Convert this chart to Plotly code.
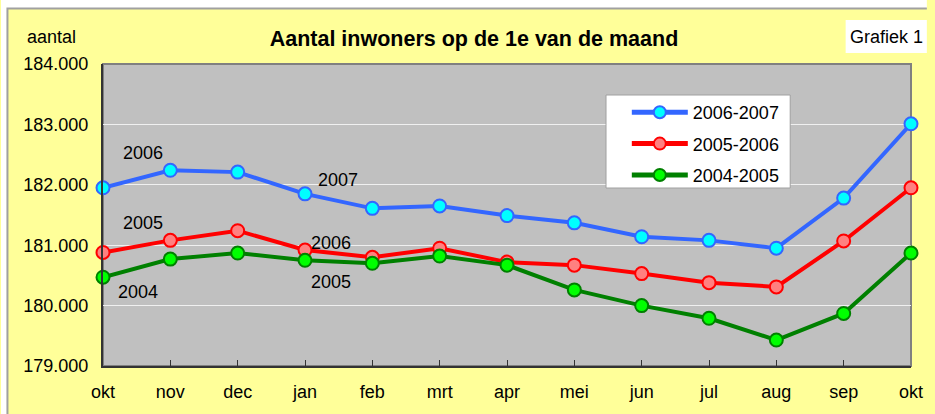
import plotly.graph_objects as go

months = ["okt", "nov", "dec", "jan", "feb", "mrt", "apr", "mei", "jun", "jul", "aug", "sep", "okt"]
s_2006_2007 = [181950, 182240, 182210, 181850, 181610, 181650, 181490, 181370, 181140, 181080, 180950, 181780, 183010]
s_2005_2006 = [180880, 181080, 181240, 180920, 180800, 180950, 180720, 180670, 180530, 180380, 180310, 181070, 181950]
s_2004_2005 = [180470, 180770, 180870, 180750, 180700, 180820, 180670, 180260, 180000, 179790, 179430, 179870, 180870]
series_names = ["2006-2007", "2005-2006", "2004-2005"]
y_ticks = [179000, 180000, 181000, 182000, 183000, 184000]

# year labels: (text, x index, y value)
year_labels = [("2006", 0.59, 182530), ("2005", 0.59, 181370), ("2004", 0.52, 180230),
               ("2007", 3.49, 182080), ("2006", 3.38, 181040), ("2005", 3.38, 180390)]

FONT = "Liberation Sans, Arial"
xs = list(range(len(months)))
styles = [
    dict(line="#3366FF", fill="#00FFFF"),
    dict(line="#FF0000", fill="#FF8080"),
    dict(line="#008000", fill="#00FF00"),
]

fig = go.Figure()
for name, vals, st in zip(series_names, [s_2006_2007, s_2005_2006, s_2004_2005], styles):
    fig.add_trace(go.Scatter(
        x=xs, y=vals, name=name, mode="lines+markers", legendgroup=name,
        line=dict(color=st["line"], width=4),
        marker=dict(size=13, color=st["fill"], line=dict(color=st["line"], width=2)),
        cliponaxis=False,
    ))

for txt, xi, yv in year_labels:
    fig.add_annotation(x=xi, y=yv, xref="x", yref="y", text=txt, showarrow=False,
                       font=dict(size=18, color="black", family=FONT))

L, R, T, B = 103, 16, 64, 48
W, H = 935, 414
pw, ph = W - L - R, H - T - B

def px(x):
    return (x - L) / pw

def py(y):
    return (H - B - y) / ph

shapes = [
    dict(type="rect", xref="paper", yref="paper", x0=px(0), x1=px(W), y0=py(8), y1=py(0),
         fillcolor="white", line=dict(width=0), layer="below"),
    dict(type="rect", xref="paper", yref="paper", x0=px(0), x1=px(6), y0=py(H), y1=py(0),
         fillcolor="white", line=dict(width=0), layer="below"),
    dict(type="path", xref="paper", yref="paper",
         path=f"M {px(6.5)} {py(H)} L {px(6.5)} {py(8.5)} L {px(W)} {py(8.5)}",
         line=dict(color="#A0A0A0", width=2), layer="below"),
    dict(type="rect", xref="paper", yref="paper", x0=px(853), x1=px(W), y0=py(53), y1=py(20),
         fillcolor="white", line=dict(width=0), layer="below"),
    dict(type="rect", xref="paper", yref="paper", x0=0, x1=1, y0=0, y1=1,
         fillcolor="rgba(0,0,0,0)", line=dict(color="#808080", width=2), layer="below"),
    # legend box
    dict(type="rect", xref="paper", yref="paper", x0=px(611), x1=px(797), y0=py(188), y1=py(95),
         fillcolor="white", line=dict(color="#A0A0A0", width=1), layer="above"),
]

fig.add_annotation(xref="paper", yref="paper", x=px(51), y=py(37), text="aantal", showarrow=False,
                   xanchor="center", yanchor="middle", font=dict(size=18, color="black", family=FONT))
fig.add_annotation(xref="paper", yref="paper", x=px(894), y=py(37), text="Grafiek 1", showarrow=False,
                   xanchor="center", yanchor="middle", font=dict(size=18, color="black", family=FONT))

fig.update_layout(
    width=W, height=H,
    margin=dict(l=L, r=R, t=T, b=B),
    paper_bgcolor="#FFFF99",
    plot_bgcolor="#C0C0C0",
    separators=",.",
    shapes=shapes,
    title=dict(text="<b>Aantal inwoners op de 1e van de maand</b>", x=474 / W, xanchor="center",
               y=1 - 38 / H, yanchor="middle", font=dict(size=21.5, color="black", family=FONT)),
    font=dict(family=FONT, color="black", size=18),
    showlegend=True,
    legend=dict(x=px(632), y=py(94), xanchor="left", yanchor="top", bgcolor="rgba(0,0,0,0)",
                borderwidth=0, font=dict(size=18), itemwidth=56,
                traceorder="grouped", tracegroupgap=5, itemsizing="constant"),
)

fig.update_xaxes(
    range=[0, 12], tickvals=xs, ticktext=months, showgrid=False, zeroline=False,
    showline=True, linecolor="#333333", linewidth=2, ticks="inside", ticklen=6,
    tickcolor="#333333", tickfont=dict(size=18), ticklabelstandoff=8,
)
fig.update_yaxes(
    range=[179000, 184000], tickvals=y_ticks, tickformat=",d", showgrid=True,
    gridcolor="#F0F0F0", gridwidth=1, zeroline=False, showline=True, linecolor="#333333",
    linewidth=2, ticks="", tickfont=dict(size=18), ticklabelstandoff=9,
)

fig.write_html("out.html", config={"displayModeBar": False},
               post_script="document.body.style.margin='0';")
